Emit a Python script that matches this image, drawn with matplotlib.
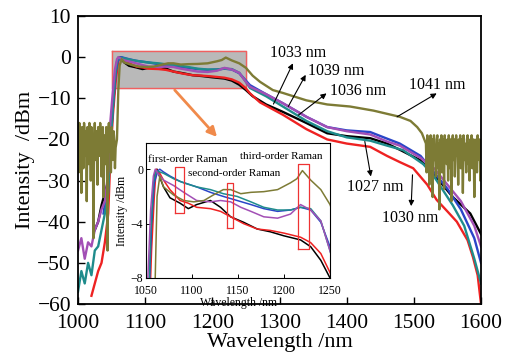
import numpy as np
import matplotlib.pyplot as plt

plt.rcParams['font.family'] = ['Liberation Serif', 'DejaVu Serif']
plt.rcParams['mathtext.fontset'] = 'stix'

# ---- data ----
wl_1027 = [1025, 1030, 1035, 1040, 1045, 1048, 1052, 1055, 1058, 1060, 1062, 1065,
           1069, 1076, 1087, 1096, 1105, 1120, 1131, 1142, 1156, 1171, 1185, 1200,
           1218, 1229, 1240, 1250, 1260, 1280, 1305, 1340, 1371, 1400, 1435, 1460,
           1479, 1509, 1530, 1558, 1584, 1600]
db_1027 = [-42, -40, -36, -33, -30, -20, -12, -6, -1.5, -0.2, 0, -0.6,
           -1.3, -2.1, -2.5, -2.9, -2.6, -2.3, -2.8, -3.5, -3.9, -4.4, -4.6, -4.9,
           -5.2, -5.7, -6.7, -8, -9.5, -11.5, -13.3, -16, -18.5, -19.2, -19.7, -21,
           -22.5, -25, -28.5, -34, -38, -43]

wl_1030 = [1020, 1025, 1030, 1035, 1040, 1045, 1048, 1052, 1056, 1059, 1061, 1065,
           1069, 1076, 1087, 1096, 1105, 1120, 1131, 1142, 1156, 1171, 1185, 1200,
           1218, 1229, 1240, 1250, 1256, 1271, 1305, 1340, 1371, 1400, 1435, 1460,
           1479, 1499, 1520, 1534, 1550, 1564, 1580, 1588, 1595, 1600]
db_1030 = [-58, -55, -52, -50, -45, -38, -25, -14, -6, -2, 0, -0.3,
           -0.8, -1.5, -2.3, -2.5, -2.8, -2.9, -3.1, -3.5, -4.0, -4.4, -4.5, -4.7,
           -5.0, -5.4, -6.2, -7.6, -8.8, -11, -14, -17.5, -20, -21, -21.8, -24,
           -25.5, -27, -31, -34.7, -37.5, -40, -44.5, -48.6, -53, -60]

wl_1033 = [1038, 1045, 1048, 1052, 1056, 1059, 1063, 1065, 1069, 1076, 1087, 1105,
           1120, 1134, 1149, 1164, 1178, 1193, 1207, 1218, 1229, 1240, 1250, 1256,
           1280, 1305, 1340, 1371, 1400, 1435, 1460, 1479, 1510, 1530, 1550, 1570,
           1590, 1600]
db_1033 = [-38, -30, -22, -12, -4, -1, -0.1, 0, -0.2, -0.5, -0.9, -1.3,
           -1.7, -2.0, -2.3, -2.6, -2.9, -3.1, -3.0, -2.8, -3.0, -3.9, -5.7, -6.8,
           -9, -11.2, -14.5, -17, -17.8, -18.2, -19.8, -21, -24, -28, -32, -37,
           -44, -50]

wl_1036 = [1000, 1005, 1010, 1015, 1020, 1025, 1030, 1035, 1040, 1045, 1048, 1052,
           1055, 1058, 1061, 1065, 1069, 1080, 1091, 1105, 1120, 1134, 1149, 1164,
           1178, 1193, 1207, 1218, 1229, 1240, 1250, 1256, 1280, 1305, 1340, 1371,
           1400, 1435, 1460, 1484, 1514, 1530, 1558, 1575, 1590, 1600]
db_1036 = [-57, -52, -55, -50, -53, -47, -46, -42, -38, -33, -22, -12,
           -5, -1, -0.1, -0.2, -0.3, -0.7, -1.0, -1.3, -1.5, -1.8, -2.0, -2.4,
           -2.8, -3.0, -3.0, -2.8, -2.9, -3.8, -6.0, -7.5, -9.5, -12, -15.5, -18,
           -19.5, -20.3, -21.5, -22.6, -26, -29, -36, -41, -49, -55]

wl_1039 = [1000, 1005, 1010, 1015, 1020, 1025, 1030, 1035, 1040, 1045, 1048, 1052,
           1055, 1058, 1060, 1064, 1069, 1080, 1091, 1105, 1120, 1131, 1142, 1153,
           1164, 1178, 1193, 1207, 1218, 1229, 1240, 1250, 1256, 1280, 1305, 1340,
           1371, 1400, 1435, 1460, 1479, 1510, 1530, 1550, 1570, 1590, 1600]
db_1039 = [-47, -44, -49, -45, -46, -42, -40, -37, -35, -28, -16, -8,
           -3, -0.5, 0, -0.4, -0.8, -1.2, -1.7, -2.3, -2.4, -2.3, -2.4, -2.8,
           -3.1, -3.5, -3.6, -3.3, -2.6, -3.0, -3.8, -6.0, -7.2, -9, -11.2, -14.5,
           -17, -18, -18.8, -20.5, -21.5, -24.5, -27, -31, -35, -41, -46]

# 1041 nm: noisy floor below 1056 nm, smooth part, noisy floor above 1518 nm
wl_1041 = list(range(1000, 1057)) + [
    1058, 1060, 1062, 1065, 1069, 1080, 1091, 1102, 1113, 1123, 1134, 1142,
    1153, 1164, 1178, 1193, 1207, 1214, 1220, 1229, 1240, 1250, 1260, 1271,
    1290, 1305, 1340, 1371, 1405, 1440, 1479, 1495, 1505, 1512] + list(range(1518, 1601))
db_1041 = [
    -17, -28, -16, -22, -18, -33, -17, -20, -27, -16, -19, -24, -18, -35, -17, -21,
    -26, -16, -18, -30, -17, -22, -19, -44, -20, -16, -25, -18, -21, -31, -17, -19,
    -24, -16, -20, -29, -18, -17, -34, -20, -19, -26, -17, -22, -47, -18, -16, -23,
    -19, -28, -17, -21, -25, -18, -20, -27, -22] + [
    -20, -8, -2, -0.5, -1.3, -1.9, -2.3, -2.4, -2.3, -1.9, -1.5, -1.5,
    -1.8, -1.7, -1.65, -1.5, -1.0, -0.7, -0.1, -0.8, -1.5, -2.6, -4.5, -6,
    -8, -8.7, -10.5, -11.5, -12, -13, -14.5, -15.5, -17, -18.5] + [
    -21, -28, -19, -24, -20, -31, -22, -19, -26, -20, -34, -21, -19, -25, -22, -29,
    -20, -19, -27, -21, -37, -20, -23, -19, -28, -21, -20, -32, -19, -24, -21, -26,
    -20, -30, -19, -22, -27, -20, -35, -21, -19, -25, -20, -29, -22, -19, -24, -21,
    -31, -20, -23, -19, -27, -21, -20, -33, -19, -25, -21, -22, -28, -20, -19, -26,
    -21, -30, -20, -23, -19, -27, -22, -20, -34, -21, -24, -20, -28, -19, -22, -25,
    -20, -30, -21]

series = [
    (wl_1027, db_1027, 'black'),
    (wl_1030, db_1030, '#ee2222'),
    (wl_1033, db_1033, '#2a45c8'),
    (wl_1036, db_1036, '#1f8c8c'),
    (wl_1039, db_1039, '#a24fb5'),
    (wl_1041, db_1041, '#7d7b35'),
]

labels = ['1027 nm', '1030 nm', '1033 nm', '1036 nm', '1039 nm', '1041 nm']
# (text position, arrow tail on curve, arrow head)
label_pos = [(1442, -31.6), (1494, -39.0), (1328, 1.0), (1417, -8.2), (1384, -3.4), (1535, -6.8)]
arrow_tail = [(1427, -20.5), (1498, -28.6), (1291, -11.4), (1328, -14.1), (1313, -12.0), (1475, -14.5)]
arrow_head = [(1436, -29.0), (1496, -36.2), (1320, -1.5), (1370, -8.8), (1339, -4.3), (1534, -8.8)]

raman_names = ['first-order Raman', 'second-order Raman', 'third-order Raman']
raman_text = [(1052, 0.75), (1096, -0.35), (1152, 0.95)]
raman_boxes = [(1082, 1091, -3.2, 0.15), (1138, 1145, -4.3, -1.0), (1215, 1227, -5.9, 0.4)]

# ---- figure ----
fig = plt.figure(figsize=(5.18, 3.58), dpi=100)
ax = fig.add_axes([0.1506, 0.1508, 0.778, 0.8045])

ax.fill_between([1050, 1250], -7.5, 1.5, color='#b9b9b9', zorder=0.5)
ax.plot([1050, 1250, 1250, 1050, 1050], [1.5, 1.5, -7.5, -7.5, 1.5],
        color='#f06060', lw=1.0, zorder=0.6)

for wl, db, c in series:
    ax.plot(wl, db, color=c, lw=1.7)

for lab, tp, tail, head in zip(labels, label_pos, arrow_tail, arrow_head):
    ax.text(tp[0], tp[1], lab, fontsize=11.5, ha='center', va='center')
    ax.annotate('', xy=head, xytext=tail,
                arrowprops=dict(arrowstyle='-|>', color='black', lw=0.8,
                                mutation_scale=8, shrinkA=0, shrinkB=0))

ax.annotate('', xy=(1207, -19.4), xytext=(1144, -8.0),
            arrowprops=dict(arrowstyle='-|>', color='#f08a4b', lw=2.0,
                            mutation_scale=14, shrinkA=0, shrinkB=0))

ax.set_xlim(1000, 1600)
ax.set_ylim(-60, 10)
ax.set_xticks(np.arange(1000, 1601, 100))
ax.set_yticks(np.arange(-60, 11, 10))
ax.set_yticklabels(['\u2212%d' % -v if v < 0 else '%d' % v for v in range(-60, 11, 10)])
ax.tick_params(direction='in', labelsize=15.5, length=5, width=1.0, top=False, right=False)
ax.tick_params(axis='x', pad=7)
ax.tick_params(axis='y', pad=5)
ax.set_xlabel('Wavelength /nm', fontsize=16, labelpad=0)
ax.set_ylabel('Intensity  /dBm', fontsize=16, labelpad=2)
for s in ax.spines.values():
    s.set_linewidth(1.3)

# ---- inset ----
ins = fig.add_axes([0.2819, 0.2235, 0.3552, 0.3771])
ins.set_facecolor('white')
for wl, db, c in series:
    ins.plot(wl, db, color=c, lw=1.1)
for (x0, x1, y0, y1) in raman_boxes:
    ins.plot([x0, x1, x1, x0, x0], [y0, y0, y1, y1, y0], color='#ee3333', lw=0.9)
for name, (tx, ty) in zip(raman_names, raman_text):
    ins.text(tx, ty, name, fontsize=8, ha='left', va='center')
ins.set_xlim(1050, 1250)
ins.set_ylim(-8, 1.93)
ins.set_xticks([1050, 1100, 1150, 1200, 1250])
ins.set_yticks([-8, -4, 0])
ins.set_yticklabels(['\u22128', '\u22124', '0'])
ins.tick_params(direction='in', labelsize=8.5, length=3, width=0.7, pad=2)
ins.tick_params(axis='x', pad=5)
ins.set_xlabel('Wavelength /nm', fontsize=8.5, labelpad=0)
ins.set_ylabel('Intensity /dBm', fontsize=8.5, labelpad=2)
for s in ins.spines.values():
    s.set_linewidth(0.8)

fig.savefig('out.png', dpi=100)
